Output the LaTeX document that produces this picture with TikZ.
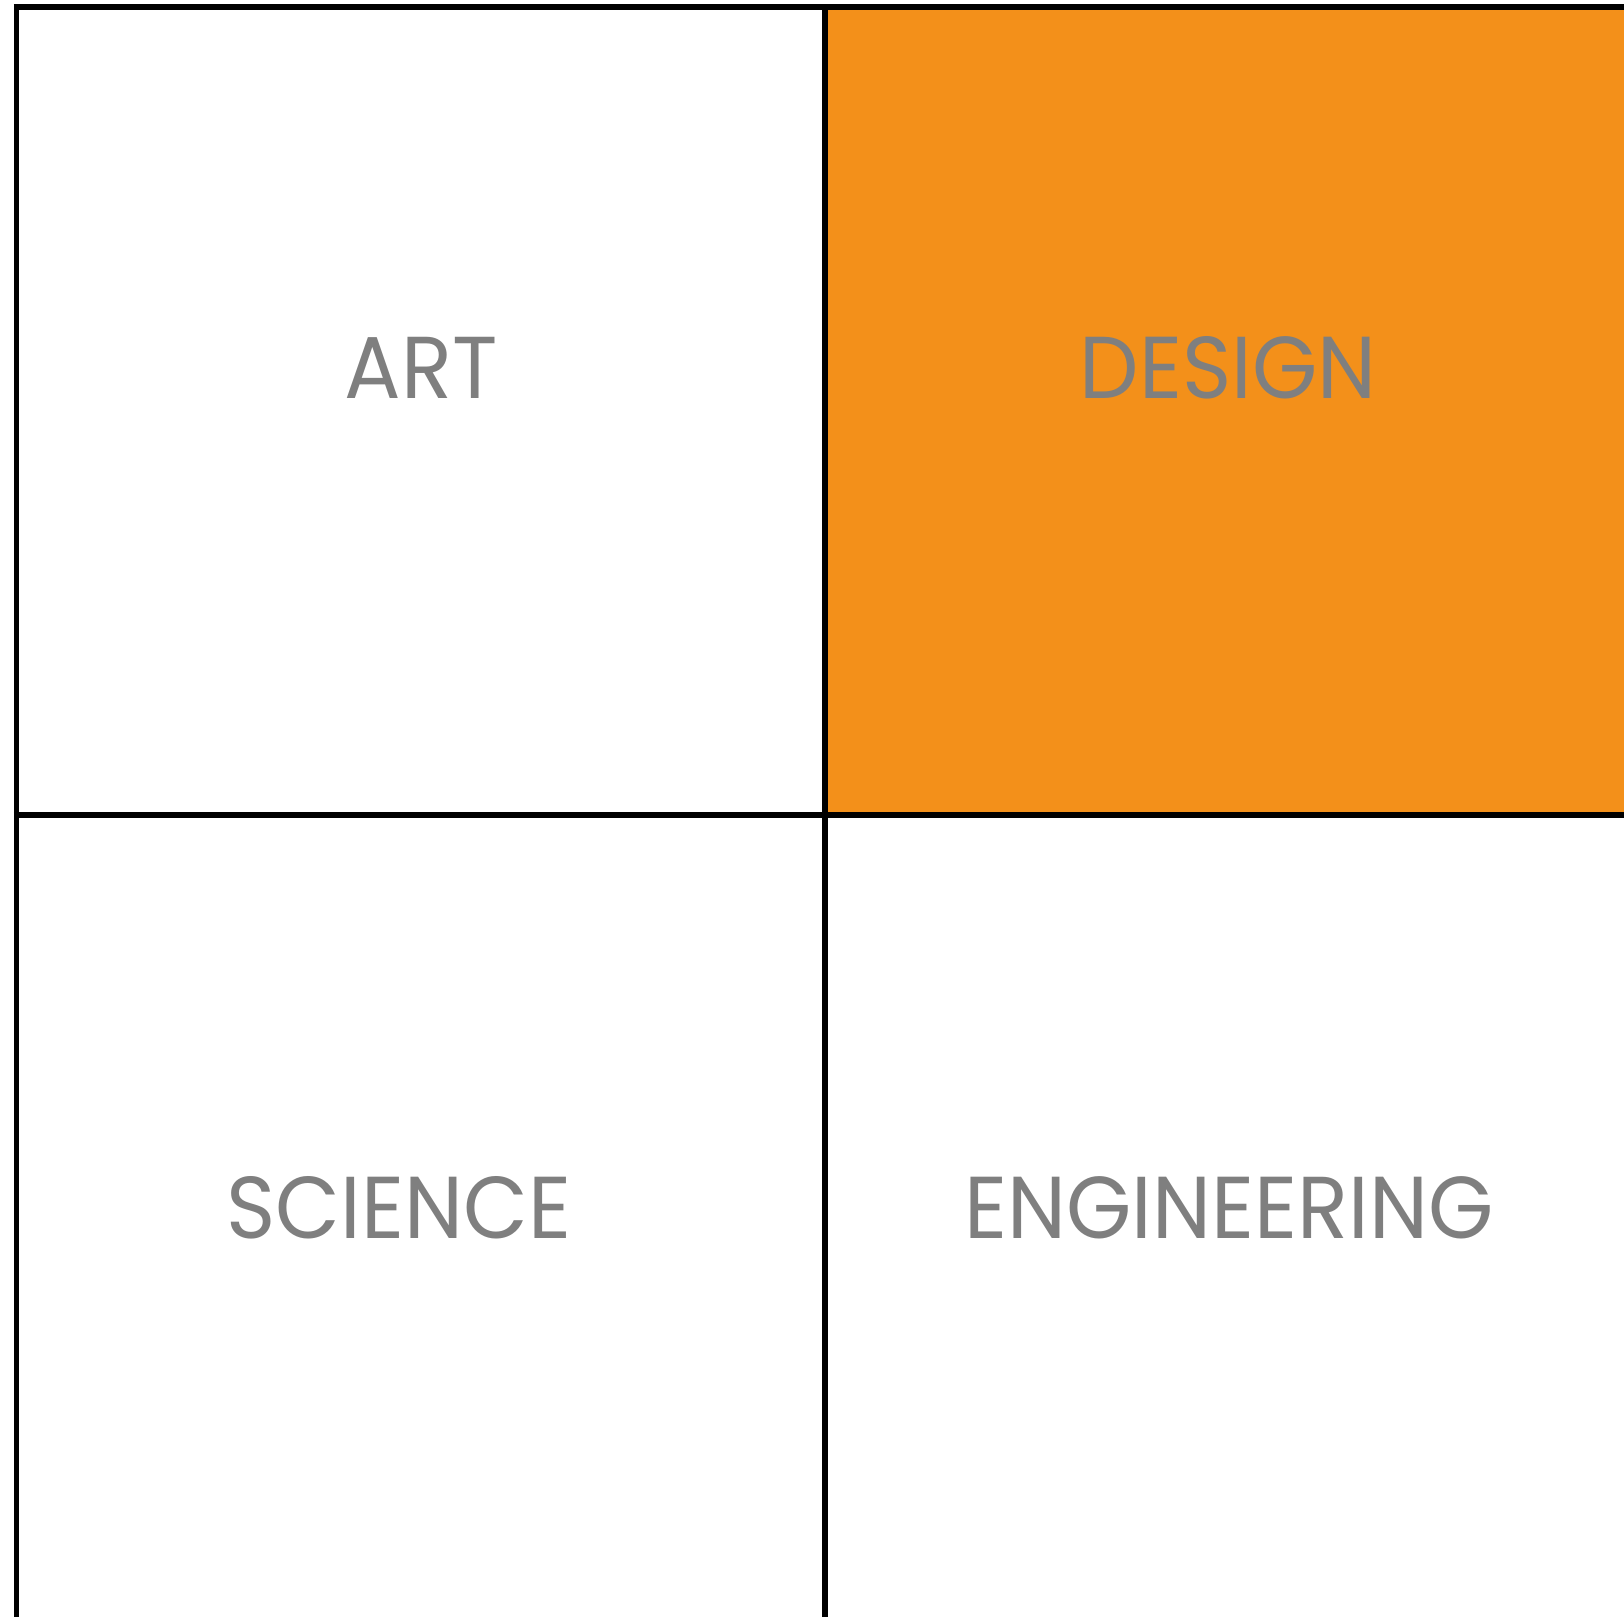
\documentclass[tikz,border=0pt]{standalone}
\usepackage{fontspec}
\setmainfont{Poppins}[FakeStretch=0.955]
\usetikzlibrary{backgrounds}
\pgfdeclarelayer{edgelayer}
\pgfdeclarelayer{nodelayer}
\pgfsetlayers{edgelayer,nodelayer,main}
\definecolor{cellorange}{HTML}{F3901A}
\definecolor{labelgrey}{HTML}{7F7F7F}
\tikzstyle{none}=[inner sep=0pt]
\tikzstyle{word}=[inner sep=0pt,anchor=base,text=labelgrey,font=\fontsize{25}{30}\selectfont]
\tikzstyle{rule}=[line width=0.055cm,draw=black]

\begin{document}
\begin{tikzpicture}
	\useasboundingbox (0,0) rectangle (16.24,-16.17);
	\begin{pgfonlayer}{nodelayer}
		\node [style=none] (0) at (0.165, -0.045) {};
		\node [style=none] (1) at (0.165, -16.17) {};
		\node [style=none] (2) at (8.25, -0.045) {};
		\node [style=none] (3) at (8.25, -16.17) {};
		\node [style=none] (4) at (0.14, -0.072) {};
		\node [style=none] (5) at (16.24, -0.072) {};
		\node [style=none] (6) at (0.14, -8.15) {};
		\node [style=none] (7) at (16.24, -8.15) {};
		\node [style=none] (8) at (8.25, -0.072) {};
		\node [style=word] (art) at (4.21, -3.987) {ART};
		\node [style=word] (design) at (12.28, -3.987) {DESIGN};
		\node [style=word] (science) at (3.99, -12.387) {SCIENCE};
		\node [style=word] (engineering) at (12.29, -12.387) {ENGINEERING};
	\end{pgfonlayer}
	\begin{pgfonlayer}{edgelayer}
		\fill [cellorange] (8.center) rectangle (7.center);
		\draw [style=rule] (0.center) to (1.center);
		\draw [style=rule] (2.center) to (3.center);
		\draw [style=rule] (4.center) to (5.center);
		\draw [style=rule] (6.center) to (7.center);
	\end{pgfonlayer}
\end{tikzpicture}
\end{document}
